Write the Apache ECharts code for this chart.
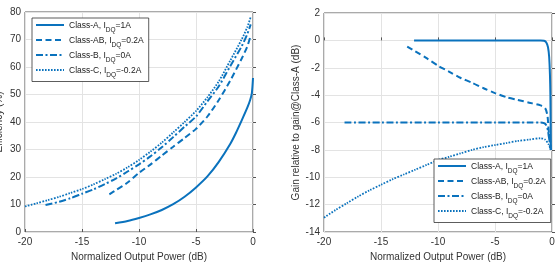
<!DOCTYPE html>
<html><head><meta charset="utf-8">
<script src="https://cdn.jsdelivr.net/npm/echarts@6/dist/echarts.min.js"></script>
<style>html,body{margin:0;padding:0;background:#fff}#c{width:556px;height:263px}</style>
</head><body><div id="c"></div><script>
// ---------- data (left: efficiency) ----------
const xTicks = [-20, -15, -10, -5, 0];
const effTicks = [0, 10, 20, 30, 40, 50, 60, 70, 80];
const gainTicks = [-14, -12, -10, -8, -6, -4, -2, 0, 2];

const effA_x = [-12.1, -11, -10, -9, -8, -7, -6, -5, -4, -3, -2, -1.5, -1, -0.5, -0.25, -0.1, 0];
const effA_y = [3.2, 4.0, 5.1, 6.4, 8.0, 10.1, 12.8, 16.2, 20.2, 25.5, 32.0, 36.0, 40.5, 45.2, 48.0, 50.5, 56.0];

const effAB_x = [-12.6, -12, -11, -10, -9, -8, -7, -6, -5, -4, -3, -2, -1, -0.5, -0.2];
const effAB_y = [13.7, 15.3, 18.0, 21.5, 24.5, 27.8, 31.0, 34.2, 37.5, 42.0, 48.0, 55.0, 63.0, 67.5, 71.5];

const effB_x = [-18.2, -17, -16, -15, -14, -13, -12, -11, -10, -9, -8, -7, -6, -5, -4, -3, -2, -1, -0.5, -0.2];
const effB_y = [9.8, 11.0, 12.3, 13.9, 15.5, 17.4, 19.5, 22.0, 24.6, 27.5, 30.8, 34.5, 38.3, 42.0, 47.5, 53.0, 60.3, 67.5, 72.0, 75.5];

const effC_x = [-20, -19, -18, -17, -16, -15, -14, -13, -12, -11, -10, -9, -8, -7, -6, -5, -4, -3, -2, -1, -0.5, -0.2];
const effC_y = [9.3, 10.4, 11.6, 12.8, 14.2, 15.6, 17.3, 19.2, 21.2, 23.5, 26.2, 29.2, 32.5, 36.2, 40.0, 44.0, 49.0, 54.8, 62.3, 70.0, 74.5, 78.2];

// ---------- data (right: gain relative to class-A) ----------
const gA_x = [-12.1, -10, -8, -6, -4, -2, -1, -0.7, -0.5, -0.35, -0.25, -0.18, -0.14, -0.12, -0.1];
const gA_y = [0, 0, 0, 0, 0, 0, 0, -0.03, -0.15, -0.5, -1.2, -2.5, -4.0, -6.0, -8.0];

const gAB_x = [-12.7, -12, -11, -10, -9, -8, -7, -6, -5, -4, -3, -2, -1, -0.6, -0.4, -0.3, -0.2, -0.1];
const gAB_y = [-0.45, -0.8, -1.3, -1.85, -2.3, -2.75, -3.1, -3.5, -3.85, -4.15, -4.35, -4.55, -4.75, -4.95, -5.5, -6.5, -7.5, -8.0];

const gB_x = [-18.2, -15, -10, -5, -2, -1, -0.7, -0.5, -0.35, -0.25, -0.2, -0.15, -0.1];
const gB_y = [-6, -6, -6, -6, -6, -6, -6.05, -6.2, -6.6, -7.2, -6.8, -7.6, -8.0];

const gC_x = [-20, -19, -18, -17, -16, -15, -14, -13, -12, -11, -10, -9, -8, -7, -6, -5, -4, -3, -2, -1, -0.6, -0.3, -0.1];
const gC_y = [-12.95, -12.4, -11.9, -11.4, -10.95, -10.55, -10.15, -9.8, -9.45, -9.1, -8.75, -8.5, -8.25, -8.0, -7.8, -7.65, -7.5, -7.35, -7.25, -7.15, -7.25, -7.6, -8.0];

const names = ['Class-A', 'Class-AB', 'Class-B', 'Class-C'];
const idq = ['1A', '0.2A', '0A', '-0.2A'];

// ---------- chart ----------
const zip = (xs, ys) => xs.map((x, i) => [x, ys[i]]);
const BLUE = '#0a72bd';
const FONT = 'Liberation Sans, Arial, Helvetica, sans-serif';
const AXC = '#555';
const styles = [
  { type: 'solid', width: 2 },
  { type: [6, 3.5], width: 2 },
  { type: [7, 2.5, 2, 2.5], width: 2 },
  { type: [1.6, 1.4], width: 1.8 }
];

function xAxis(gi) {
  return {
    gridIndex: gi, type: 'value', min: -20, max: 0, interval: 5,
    name: 'Normalized Output Power (dB)', nameLocation: 'middle', nameGap: 15,
    nameTextStyle: { fontFamily: FONT, fontSize: 10, color: '#333' },
    axisLine: { show: false },
    axisTick: { show: true, inside: true, length: 3, lineStyle: { color: AXC } },
    axisLabel: { fontFamily: FONT, fontSize: 10, color: '#333', margin: 5 },
    splitLine: { show: true, lineStyle: { color: '#e3e3e3', width: 1 } }
  };
}
function yAxis(gi, min, max, interval, name, gap) {
  return {
    gridIndex: gi, type: 'value', min: min, max: max, interval: interval,
    name: name, nameLocation: 'middle', nameGap: gap, nameRotate: 90,
    nameMoveOverlap: false,
    nameTextStyle: { fontFamily: FONT, fontSize: 10, color: '#333' },
    axisLine: { show: false },
    axisTick: { show: true, inside: true, length: 3, lineStyle: { color: AXC } },
    axisLabel: { fontFamily: FONT, fontSize: 10, color: '#333', margin: 4 },
    splitLine: { show: true, lineStyle: { color: '#e3e3e3', width: 1 } }
  };
}

const leftData = [zip(effA_x, effA_y), zip(effAB_x, effAB_y), zip(effB_x, effB_y), zip(effC_x, effC_y)];
const rightData = [zip(gA_x, gA_y), zip(gAB_x, gAB_y), zip(gB_x, gB_y), zip(gC_x, gC_y)];

const series = [];
[leftData, rightData].forEach((set, gi) => {
  set.forEach((d, i) => {
    series.push({
      name: names[i], type: 'line', xAxisIndex: gi, yAxisIndex: gi,
      data: d, symbol: 'none', smooth: 0.25, animation: false,
      lineStyle: Object.assign({ color: BLUE }, styles[i]),
      itemStyle: { color: BLUE }
    });
  });
});

function legend(left, top) {
  return {
    orient: 'vertical', left: left, top: top, data: names,
    itemWidth: 28, itemHeight: 10, itemGap: 2.5,
    padding: [3, 5, 3, 3],
    backgroundColor: '#fff', borderColor: '#333', borderWidth: 0.8,
    selectedMode: false,
    itemStyle: { color: 'rgba(0,0,0,0)', borderWidth: 0, opacity: 0 },
    formatter: n => '{n|' + n + ', I}{s|DQ}{n|=' + idq[names.indexOf(n)] + '}',
    textStyle: {
      fontFamily: FONT, color: '#222',
      rich: {
        n: { fontFamily: FONT, fontSize: 8.5, color: '#222', lineHeight: 11, verticalAlign: 'bottom' },
        s: { fontFamily: FONT, fontSize: 6.5, color: '#222', lineHeight: 11, verticalAlign: 'bottom', padding: [0, 0, -3, 0] }
      }
    }
  };
}

const chart = echarts.init(document.getElementById('c'), null, { renderer: 'canvas' });
chart.setOption({
  animation: false,
  backgroundColor: '#fff',
  grid: [
    { left: 25, top: 12, width: 228, height: 220, show: true, borderColor: AXC, borderWidth: 1, backgroundColor: 'transparent', outerBoundsMode: 'none', containLabel: false },
    { left: 324, top: 13, width: 228, height: 219, show: true, borderColor: AXC, borderWidth: 1, backgroundColor: 'transparent', outerBoundsMode: 'none', containLabel: false }
  ],
  xAxis: [xAxis(0), xAxis(1)],
  yAxis: [
    yAxis(0, 0, 80, 10, 'Efficiency (%)', 21),
    yAxis(1, -14, 2, 2, 'Gain relative to gain@Class-A (dB)', 23)
  ],
  legend: [legend(32, 18), legend(434, 159)],
  series: series
});
</script></body></html>
